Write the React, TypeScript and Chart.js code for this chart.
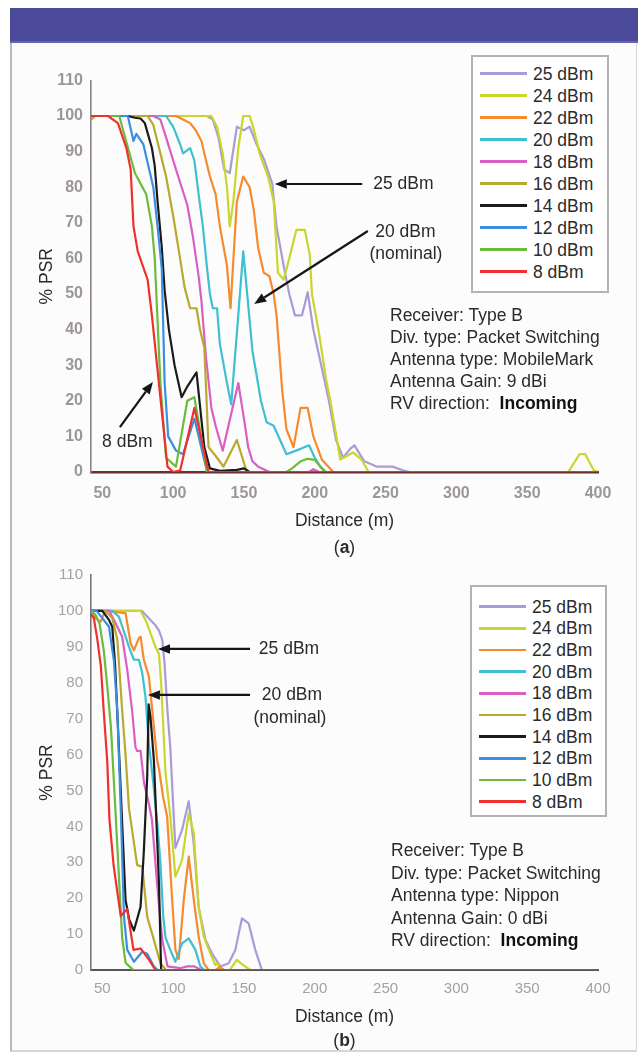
import { useEffect, useRef } from "react";
import { Chart, registerables } from "chart.js";

Chart.register(...registerables);

const FONT = '"Liberation Sans", Arial, sans-serif';

// ---------- shared series info ----------
const seriesLabels = ["25 dBm", "24 dBm", "22 dBm", "20 dBm", "18 dBm", "16 dBm", "14 dBm", "12 dBm", "10 dBm", "8 dBm"];
const seriesColors = ["#a99bd8", "#c9d62c", "#f58a2e", "#3ebfd2", "#d95fc4", "#b8aa2e", "#1b1b1b", "#3b8ee0", "#6bbb3c", "#f0302c"];
const xTickValues = [50, 100, 150, 200, 250, 300, 350, 400];
const xMin = 42;
const xMax = 400;
const yMin = 0;
const yMax = 110;
const yStep = 10;

// ---------- chart (a): distance (m) / % PSR ----------
const a25Dist = [42, 124, 128, 132, 136, 140, 145, 150, 154, 159, 164, 170, 173, 178, 182, 186, 191, 195, 199, 204, 210, 215, 220, 225, 228, 235, 244, 255, 262, 267, 400];
const a25Psr = [100, 100, 99, 94, 85, 84, 97, 96, 97, 92, 88, 81, 69, 58, 50, 44, 44, 50.5, 40, 31, 20, 9, 4, 6.5, 7.5, 3, 1.5, 1.5, 0.5, 0, 0];
const a24Dist = [42, 121, 127, 131, 135, 138, 140, 142.5, 146, 149.5, 154, 156.5, 161, 167, 171, 174, 178, 182, 187, 193, 196.5, 198, 203, 208, 211, 218, 227, 233, 238, 379, 387, 391, 397, 400];
const a24Psr = [100, 100, 100, 97, 89.5, 80, 69, 76, 91, 100, 100, 97, 89.5, 83, 76, 56, 54, 60, 68, 68, 61, 50, 39, 26, 20, 3.5, 5.5, 3.5, 0, 0, 5, 5, 0.5, 0];
const a22Dist = [42, 102, 107, 112, 116, 120, 122, 126, 130, 133, 138, 140.5, 145, 149.5, 154, 157, 160, 164, 168, 171, 173, 177, 180, 185, 190, 195, 199, 205, 213, 400];
const a22Psr = [100, 100, 99, 98, 96, 93, 89.5, 83, 78, 69, 58, 46, 76, 83, 80, 73.5, 63, 56, 55, 50, 44, 23, 12, 7, 18, 18, 10, 3.5, 0, 0];
const a20Dist = [42, 95, 100, 105, 107, 112, 115, 118, 121, 124, 126, 128, 131, 133, 138, 141, 145, 149.5, 156, 162, 166, 171, 180, 190, 196, 200, 204, 208, 400];
const a20Psr = [100, 100, 97, 92, 89.5, 91, 87.5, 78, 69, 57, 50, 46, 46, 36, 25, 19, 39, 62, 34, 20, 14, 13, 5, 6.5, 7.5, 4, 1.5, 0, 0];
const a18Dist = [42, 86, 91, 95, 102, 110, 114, 118, 120, 123, 127, 130, 135, 146, 150, 153, 156, 160, 168, 196, 199, 203, 400];
const a18Psr = [100, 100, 99, 94, 85, 75, 66, 55, 48, 33, 18, 13, 6, 25, 15, 7, 3, 1.5, 0, 0, 0.8, 0, 0];
const a16Dist = [42, 45, 50, 82, 86, 91, 95, 100, 104.5, 108, 112, 116.5, 119, 122, 125, 131, 135.5, 145, 152, 400];
const a16Psr = [99, 100, 100, 100, 97.5, 89.5, 83, 72, 61, 52, 46, 46, 40, 35, 7, 4, 1.5, 9, 0, 0];
const a14Dist = [42, 68, 73, 77, 80, 85, 87, 89, 92, 94, 97, 101, 106, 110, 116.5, 122, 126, 133, 145, 150, 154, 400];
const a14Psr = [100, 100, 99.5, 99.3, 98, 91, 86, 76, 63, 51, 40, 30, 21, 24, 28, 7, 1, 0.3, 0.6, 1, 0, 0];
const a12Dist = [42, 68, 72, 74, 79, 86, 89, 92, 94, 96.5, 102, 107, 115, 124, 400];
const a12Psr = [100, 100, 93, 95, 92, 80, 69, 57, 25, 10, 6, 5, 15, 0, 0];
const a10Dist = [42, 62, 64, 73, 81, 85, 87, 91, 95, 102, 110, 115, 124, 180, 184, 190, 195, 200, 207, 400];
const a10Psr = [100, 100, 97, 84, 78, 69, 60, 25, 4, 1.5, 20, 21, 0, 0, 1, 3, 3.7, 3.4, 0, 0];
const a8Dist = [42, 54, 61, 67, 70, 72, 75, 82, 85, 96, 100, 105, 115, 125, 400];
const a8Psr = [100, 100, 98, 91, 85, 69, 62, 54, 44, 1.5, 0, 0.5, 18, 0, 0];

// ---------- chart (b) ----------
const b25Dist = [42, 78, 84, 87.5, 90, 92.3, 94, 96, 98, 99.5, 101.6, 106.3, 111, 114.6, 118, 122.8, 127.5, 133.3, 139.2, 143.9, 148.6, 153.3, 158, 162.7, 400];
const b25Psr = [100, 100, 97.5, 96, 94.5, 92, 85, 72, 62, 50, 34, 39, 47, 35, 17.6, 8.4, 4.6, 1, 1.9, 5.6, 14.4, 13, 5.6, 0, 0];
const b24Dist = [42, 77, 80.5, 84, 87.5, 90, 91.5, 93, 94.6, 96, 98, 101.6, 106.3, 111, 114.6, 118, 121.6, 126.3, 129.8, 131, 134, 140, 145, 149, 154.4, 400];
const b24Psr = [100, 100, 97.5, 93.8, 90, 88, 80, 68, 55, 50, 42.7, 26, 30.6, 43.6, 38, 17.6, 9.3, 4.6, 1.4, 1.9, 0, 0, 2.8, 1.5, 0, 0];
const b22Dist = [42, 45, 48.8, 52, 66.4, 70, 72.3, 75.8, 77, 79.3, 82.9, 86.4, 88.7, 90, 93, 95.8, 99.3, 101.6, 104, 107.5, 111, 114.6, 118, 121.6, 125, 130, 133, 136, 400];
const b22Psr = [100, 98, 97, 100, 99.4, 91, 89, 92.4, 92.8, 86.4, 81.7, 67.8, 58.5, 56, 48, 42.7, 19.5, 5.6, 3, 19.5, 31.6, 19.5, 9.3, 1.9, 0, 0, 0.8, 0, 0];
const b20Dist = [42, 57, 61.7, 65.3, 68.8, 72.3, 75.8, 78.2, 80.5, 82.9, 86, 89, 91, 93, 94.6, 98, 101.6, 106.3, 111, 115.7, 119.2, 122, 400];
const b20Psr = [100, 100, 98.4, 94.2, 90, 86.4, 86.4, 82.7, 76, 63, 52, 40, 30, 15, 9, 5.6, 2.3, 7.4, 8.8, 5.6, 1, 0, 0];
const b18Dist = [42, 55, 60.6, 64, 67.6, 71, 73.4, 74.6, 77, 79.5, 83, 85, 88.7, 92.3, 96, 105, 110, 115, 120, 400];
const b18Psr = [100, 100, 95.6, 92.8, 83.6, 72.4, 62, 61, 61, 52, 46, 42, 24, 8.4, 1, 0.5, 1, 1, 0, 0];
const b16Dist = [42, 52, 57, 60.6, 64, 66.4, 68.8, 74.6, 78.2, 81.7, 86.4, 91, 95, 400];
const b16Psr = [100, 100, 98, 92, 72.4, 60, 45, 29.2, 28.8, 14.8, 8.4, 1.9, 0, 0];
const b14Dist = [42, 50, 54.7, 57, 59, 61, 63, 66.4, 69, 72.3, 77, 79.3, 81.7, 82.7, 84, 86.4, 90, 91.5, 400];
const b14Psr = [100, 100, 97.5, 95.6, 85, 68, 50, 19.5, 14, 11, 17.6, 33, 54, 74, 70.5, 58.5, 24, 0, 0];
const b12Dist = [42, 46, 50, 54.7, 58.2, 60.6, 63, 65.3, 67.6, 72.3, 78.2, 81.7, 86.4, 89, 400];
const b12Psr = [100, 100, 98, 95.6, 86, 72, 45, 14.8, 5.6, 2.3, 5.1, 4.5, 1, 0, 0];
const b10Dist = [42, 45, 48, 51, 53.5, 56, 57, 58.5, 64, 66.4, 72, 400];
const b10Psr = [100, 99, 96.6, 89, 79, 68, 61, 50, 9, 2, 0, 0];
const b8Dist = [42, 44, 46.5, 49, 51, 53.5, 55, 58, 63, 67.5, 72, 77, 83, 87.5, 400];
const b8Psr = [99, 98, 92, 84.5, 72, 58, 42, 29, 15, 17, 5.6, 6, 2.8, 0, 0];

// ---------- text ----------
const infoA = ["Receiver: Type B", "Div. type: Packet Switching", "Antenna type: MobileMark", "Antenna Gain: 9 dBi"];
const infoB = ["Receiver: Type B", "Div. type: Packet Switching", "Antenna type: Nippon", "Antenna Gain: 0 dBi"];
const directionLabel = "RV direction:  ";
const directionValue = "Incoming";

type Arrow = { tail: [number, number]; tip: [number, number] };
type Note = { at: [number, number]; text: string };

const arrowsA: Arrow[] = [
  { tail: [233.5, 80.9], tip: [171.8, 80.9] },
  { tail: [237.5, 67.7], tip: [157.2, 47.2] },
  { tail: [62.4, 12.6], tip: [85.7, 25.3] },
];
const notesA: Note[] = [
  { at: [262.6, 80.9], text: "25 dBm" },
  { at: [264, 67.4], text: "20 dBm" },
  { at: [264.4, 61.2], text: "(nominal)" },
  { at: [67.7, 8.5], text: "8 dBm" },
];
const arrowsB: Arrow[] = [
  { tail: [154.3, 89.4], tip: [89.3, 89.4] },
  { tail: [154.3, 76.6], tip: [82.2, 76.6] },
];
const notesB: Note[] = [
  { at: [181.8, 89.4], text: "25 dBm" },
  { at: [183.9, 76.6], text: "20 dBm" },
  { at: [182.5, 70.2], text: "(nominal)" },
];

function annotationPlugin(arrows: Arrow[], notes: Note[]) {
  return {
    id: "notes",
    afterDatasetsDraw(chart: any) {
      const { ctx, scales } = chart;
      const xs = scales.x;
      const ys = scales.y;
      ctx.save();
      ctx.strokeStyle = "#151515";
      ctx.fillStyle = "#151515";
      ctx.lineWidth = 2.2;
      for (const a of arrows) {
        const x1 = xs.getPixelForValue(a.tail[0]);
        const y1 = ys.getPixelForValue(a.tail[1]);
        const x2 = xs.getPixelForValue(a.tip[0]);
        const y2 = ys.getPixelForValue(a.tip[1]);
        const ang = Math.atan2(y2 - y1, x2 - x1);
        const head = 12;
        const hw = 4.8;
        const bx = x2 - head * Math.cos(ang);
        const by = y2 - head * Math.sin(ang);
        ctx.beginPath();
        ctx.moveTo(x1, y1);
        ctx.lineTo(bx, by);
        ctx.stroke();
        ctx.beginPath();
        ctx.moveTo(x2, y2);
        ctx.lineTo(bx + hw * Math.sin(ang), by - hw * Math.cos(ang));
        ctx.lineTo(bx - hw * Math.sin(ang), by + hw * Math.cos(ang));
        ctx.closePath();
        ctx.fill();
      }
      ctx.fillStyle = "#2a2a2a";
      ctx.font = `17.5px ${FONT}`;
      ctx.textAlign = "center";
      ctx.textBaseline = "middle";
      for (const n of notes) {
        ctx.fillText(n.text, xs.getPixelForValue(n.at[0]), ys.getPixelForValue(n.at[1]));
      }
      ctx.restore();
    },
  };
}

type Panel = {
  dist: number[][];
  psr: number[][];
  padTop: number;
  xAxisHeight: number;
  xTickPad: number;
  xTitlePadBottom: number;
  xZ: number;
  xBorderColor: string;
  xBorderWidth: number;
  yBorderColor: string;
  tickColor: string;
  tickBold: boolean;
  tickSize: number;
  arrows: Arrow[];
  notes: Note[];
};

const panelA: Panel = {
  dist: [a25Dist, a24Dist, a22Dist, a20Dist, a18Dist, a16Dist, a14Dist, a12Dist, a10Dist, a8Dist],
  psr: [a25Psr, a24Psr, a22Psr, a20Psr, a18Psr, a16Psr, a14Psr, a12Psr, a10Psr, a8Psr],
  padTop: 30.4,
  xAxisHeight: 78,
  xTickPad: 12,
  xTitlePadBottom: 18.5,
  xZ: 1,
  xBorderColor: "#6e2c2c",
  xBorderWidth: 2.5,
  yBorderColor: "#8c8282",
  tickColor: "#9d9696",
  tickBold: true,
  tickSize: 16,
  arrows: arrowsA,
  notes: notesA,
};

const panelB: Panel = {
  dist: [b25Dist, b24Dist, b22Dist, b20Dist, b18Dist, b16Dist, b14Dist, b12Dist, b10Dist, b8Dist],
  psr: [b25Psr, b24Psr, b22Psr, b20Psr, b18Psr, b16Psr, b14Psr, b12Psr, b10Psr, b8Psr],
  padTop: 25,
  xAxisHeight: 80,
  xTickPad: 10,
  xTitlePadBottom: 22.5,
  xZ: 0,
  xBorderColor: "#5a5555",
  xBorderWidth: 2,
  yBorderColor: "#7a7272",
  tickColor: "#a8a0a0",
  tickBold: false,
  tickSize: 15,
  arrows: arrowsB,
  notes: notesB,
};

function makeConfig(p: Panel): any {
  const datasets = p.dist
    .map((d, i) => ({
      label: seriesLabels[i],
      data: d.map((x, j) => ({ x, y: p.psr[i][j] })),
      borderColor: seriesColors[i],
      backgroundColor: seriesColors[i],
      borderWidth: 2.2,
      pointRadius: 0,
      tension: 0,
      fill: false,
      borderJoinStyle: "round",
      borderCapStyle: "round",
    }))
    .reverse();
  const tickFont = { family: FONT, size: p.tickSize, weight: p.tickBold ? "bold" : "normal" };
  return {
    type: "line",
    data: { datasets },
    options: {
      animation: false,
      responsive: false,
      events: [],
      layout: { padding: { left: 30, right: 40, top: p.padTop, bottom: 0 } },
      plugins: { legend: { display: false }, tooltip: { enabled: false } },
      scales: {
        x: {
          type: "linear",
          min: xMin,
          max: xMax,
          z: p.xZ,
          afterBuildTicks: (s: any) => {
            s.ticks = xTickValues.map((v) => ({ value: v }));
          },
          afterFit: (s: any) => {
            s.height = p.xAxisHeight;
          },
          grid: { display: false, drawTicks: false },
          border: { display: true, color: p.xBorderColor, width: p.xBorderWidth },
          ticks: { padding: p.xTickPad, color: p.tickColor, font: tickFont, maxRotation: 0, autoSkip: false },
          title: {
            display: true,
            text: "Distance (m)",
            color: "#2a2a2a",
            font: { family: FONT, size: 17.5 },
            padding: { top: 0, bottom: p.xTitlePadBottom },
          },
        },
        y: {
          type: "linear",
          min: yMin,
          max: yMax,
          afterFit: (s: any) => {
            s.width = 61;
          },
          grid: { display: false, drawTicks: false },
          border: { display: true, color: p.yBorderColor, width: 1.6 },
          ticks: { stepSize: yStep, padding: 8, color: p.tickColor, font: tickFont },
          title: {
            display: true,
            text: "% PSR",
            color: "#2a2a2a",
            font: { family: FONT, size: 17.5 },
            padding: { top: 6.5, bottom: 0 },
          },
        },
      },
    },
    plugins: [annotationPlugin(p.arrows, p.notes)],
  };
}

const textStyle: any = {
  position: "absolute",
  fontSize: 17.5,
  lineHeight: "22px",
  height: 22,
  color: "#2b2b2b",
  whiteSpace: "pre",
  fontFamily: FONT,
};

function Legend({ left, top, width, height, firstY, step }: { left: number; top: number; width: number; height: number; firstY: number; step: number }) {
  return (
    <>
      <div
        style={{
          position: "absolute",
          left,
          top,
          width,
          height,
          boxSizing: "border-box",
          border: "2px solid #b5b1b1",
          background: "#ffffff",
        }}
      />
      {seriesLabels.map((lab, i) => {
        const cy = firstY + i * step;
        return (
          <div key={lab}>
            <div style={{ position: "absolute", left: left + 9, top: cy - 1.25, width: 47, height: 2.5, background: seriesColors[i] }} />
            <div style={{ ...textStyle, left: left + 62, top: cy - 11 }}>{lab}</div>
          </div>
        );
      })}
    </>
  );
}

function Info({ left, firstY, step, lines }: { left: number; firstY: number; step: number; lines: string[] }) {
  return (
    <>
      {lines.map((t, i) => (
        <div key={t} style={{ ...textStyle, left, top: firstY + i * step - 11 }}>
          {t}
        </div>
      ))}
      <div style={{ ...textStyle, left, top: firstY + lines.length * step - 11 }}>
        {directionLabel}
        <b style={{ color: "#111" }}>{directionValue}</b>
      </div>
    </>
  );
}

export default function App() {
  const refA = useRef<HTMLCanvasElement>(null);
  const refB = useRef<HTMLCanvasElement>(null);

  useEffect(() => {
    const a = new Chart(refA.current as HTMLCanvasElement, makeConfig(panelA));
    const b = new Chart(refB.current as HTMLCanvasElement, makeConfig(panelB));
    return () => {
      a.destroy();
      b.destroy();
    };
  }, []);

  return (
    <div style={{ position: "absolute", left: 0, top: 0, width: 638, height: 1057, background: "#ffffff", overflow: "hidden", fontFamily: FONT }}>
      <div style={{ position: "absolute", left: 10, top: 8, width: 628, height: 33, background: "#4b4a9b", borderBottom: "2px solid #6464b2" }} />
      <div
        style={{
          position: "absolute",
          left: 10,
          top: 43,
          width: 627,
          height: 1009,
          boxSizing: "border-box",
          background: "#fcfcfc",
          borderLeft: "2px solid #b9b9b9",
          borderRight: "1px solid #d6d6d6",
          borderBottom: "2px solid #d6d6d6",
        }}
      />
      <canvas ref={refA} width={638} height={500} style={{ position: "absolute", left: 0, top: 50, width: 638, height: 500 }} />
      <canvas ref={refB} width={638} height={500} style={{ position: "absolute", left: 0, top: 550, width: 638, height: 500 }} />

      <Legend left={471} top={55} width={138} height={238} firstY={73.5} step={22} />
      <Legend left={470} top={585} width={137} height={232} firstY={606.7} step={21.67} />

      <Info left={390} firstY={315} step={22} lines={infoA} />
      <Info left={391} firstY={850} step={22.5} lines={infoB} />

      <div style={{ ...textStyle, left: 294.5, width: 100, textAlign: "center", top: 547 - 11 }}>
        (<b>a</b>)
      </div>
      <div style={{ ...textStyle, left: 294.5, width: 100, textAlign: "center", top: 1040 - 11 }}>
        (<b>b</b>)
      </div>
    </div>
  );
}
